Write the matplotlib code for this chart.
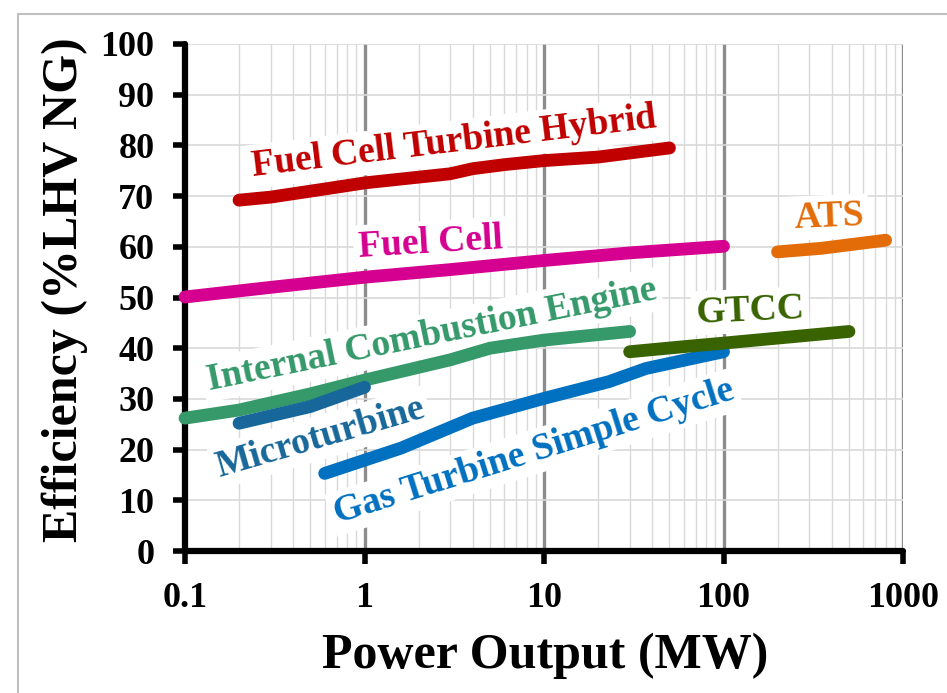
import matplotlib
matplotlib.use("Agg")
import matplotlib.pyplot as plt
from matplotlib.ticker import LogLocator, FixedLocator, NullFormatter
from matplotlib.patches import Rectangle

# ---- data ----
fcth_x = [0.2, 0.3, 0.6, 1, 3, 4, 6, 10, 20, 50]
fcth_y = [69.2, 69.8, 71.4, 72.6, 74.4, 75.4, 76.2, 77.0, 77.7, 79.5]

fc_x = [0.1, 0.3, 1, 3, 10, 30, 100]
fc_y = [50.1, 52.0, 54.0, 55.5, 57.3, 58.8, 60.1]

ice_x = [0.1, 0.2, 0.5, 1, 3, 5, 10, 30]
ice_y = [26.2, 27.8, 31.0, 33.7, 37.7, 40.0, 41.6, 43.3]

mt_x = [0.2, 0.5, 1]
mt_y = [25.2, 28.5, 32.3]

gtsc_x = [0.6, 1.6, 4, 10, 23, 37, 100]
gtsc_y = [15.3, 20.3, 26.2, 30.1, 33.4, 36.0, 39.3]

gtcc_x = [30, 60, 100, 500]
gtcc_y = [39.3, 40.3, 41.0, 43.3]

ats_x = [200, 350, 800]
ats_y = [59.0, 59.7, 61.3]

x_ticks = [0.1, 1, 10, 100, 1000]
x_tick_labels = ["0.1", "1", "10", "100", "1000"]
y_ticks = list(range(0, 101, 10))

series = [
    (fcth_x, fcth_y, "#C00000", "Fuel Cell Turbine Hybrid", 3.18, 78.7, 6.9),
    (fc_x, fc_y, "#D5008F", "Fuel Cell", 2.34, 58.9, 3.5),
    (ice_x, ice_y, "#35996A", "Internal Combustion Engine", 2.42, 40.8, 11.5),
    (mt_x, mt_y, "#17679A", "Microturbine", 0.589, 20.6, 16.2),
    (gtsc_x, gtsc_y, "#0070C0", "Gas Turbine Simple Cycle", 9.14, 17.75, 17.4),
    (gtcc_x, gtcc_y, "#386300", "GTCC", 141.6, 45.5, 2.6),
    (ats_x, ats_y, "#E36C09", "ATS", 388, 64.0, 2.4),
]

plt.rcParams["font.family"] = ["Liberation Serif", "DejaVu Serif"]
plt.rcParams["font.weight"] = "bold"

fig = plt.figure(figsize=(9.47, 6.93), dpi=100)
ax = fig.add_axes([185 / 947, 1 - 551 / 693, (903 - 185) / 947, (551 - 44) / 693])

ax.set_xscale("log")
ax.set_xlim(0.1, 1000)
ax.set_ylim(0, 100)

# grid
ax.set_axisbelow(True)
ax.xaxis.set_major_locator(FixedLocator(x_ticks))
ax.set_xticklabels(x_tick_labels)
ax.xaxis.set_minor_locator(LogLocator(base=10, subs=range(2, 10)))
ax.xaxis.set_minor_formatter(NullFormatter())
ax.set_yticks(y_ticks)
ax.grid(True, which="minor", axis="x", color="#D9D9D9", lw=1.0, zorder=0)
ax.grid(True, which="major", axis="x", color="#8C8C8C", lw=2.4, zorder=0)
ax.grid(True, which="major", axis="y", color="#D9D9D9", lw=1.2, zorder=0)

for s in ["top", "right"]:
    ax.spines[s].set_visible(False)
for s in ["left", "bottom"]:
    ax.spines[s].set_linewidth(4.5)
    ax.spines[s].set_color("black")
    ax.spines[s].set_capstyle("round")

ax.tick_params(axis="both", which="major", length=9, width=4.0, color="black",
               labelsize=26, pad=13)
ax.tick_params(axis="x", which="minor", length=0)
for lab in ax.get_xticklabels() + ax.get_yticklabels():
    lab.set_fontweight("bold")

for xs, ys, col, name, tx, ty, rot in series:
    ax.plot(xs, ys, color=col, lw=9.2, solid_capstyle="round",
            solid_joinstyle="round", zorder=3, clip_on=False)
    ax.text(tx, ty, name, color=col, fontsize=27, fontweight="bold",
            rotation=rot, rotation_mode="anchor", ha="center", va="baseline",
            zorder=2,
            bbox=dict(boxstyle="square,pad=0.12", facecolor="white",
                      edgecolor="none"))

fig.text(65 / 947, 1 - 290 / 693, "Efficiency (%LHV NG)", rotation=90,
         ha="center", va="center", fontsize=36, fontweight="bold")
fig.text(545 / 947, 1 - 668 / 693, "Power Output (MW)", ha="center",
         va="baseline", fontsize=36, fontweight="bold")

# outer frame
fig.patches.append(Rectangle((18 / 947, -0.05), 1.2, 1 - 14 / 693 + 0.05,
                             transform=fig.transFigure, fill=False,
                             edgecolor="#BFBFBF", lw=1.5))

fig.savefig("out.png", dpi=100)
